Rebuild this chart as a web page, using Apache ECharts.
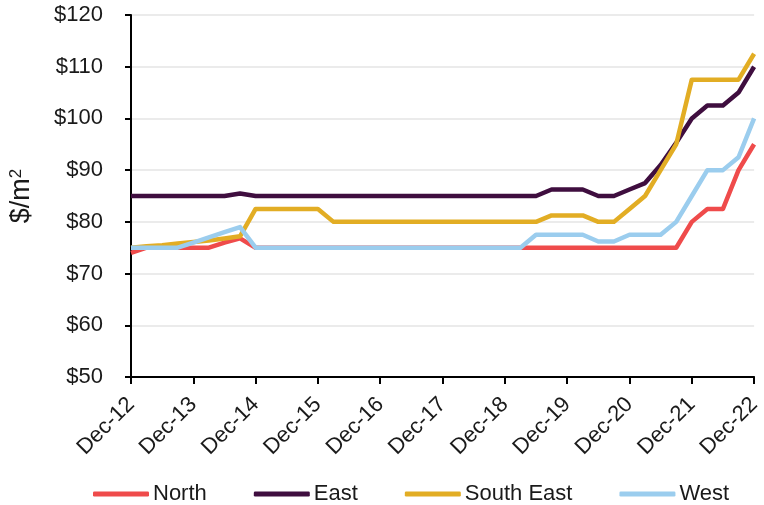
<!DOCTYPE html>
<html>
<head>
<meta charset="utf-8">
<script src="https://cdn.jsdelivr.net/npm/echarts@6/dist/echarts.min.js"></script>
<style>
  html, body { margin: 0; padding: 0; background: #ffffff; }
  #chart { width: 764px; height: 505px; }
</style>
</head>
<body>
<div id="chart"></div>
<script>
// Quarterly periods, Dec-12 through Dec-22
const periods = [
  'Dec-12', 'Mar-13', 'Jun-13', 'Sep-13',
  'Dec-13', 'Mar-14', 'Jun-14', 'Sep-14',
  'Dec-14', 'Mar-15', 'Jun-15', 'Sep-15',
  'Dec-15', 'Mar-16', 'Jun-16', 'Sep-16',
  'Dec-16', 'Mar-17', 'Jun-17', 'Sep-17',
  'Dec-17', 'Mar-18', 'Jun-18', 'Sep-18',
  'Dec-18', 'Mar-19', 'Jun-19', 'Sep-19',
  'Dec-19', 'Mar-20', 'Jun-20', 'Sep-20',
  'Dec-20', 'Mar-21', 'Jun-21', 'Sep-21',
  'Dec-21', 'Mar-22', 'Jun-22', 'Sep-22',
  'Dec-22'
];

// Rent in $/m² by region
const north = [
  74, 75, 75, 75,
  75, 75, 76, 76.8,
  75, 75, 75, 75,
  75, 75, 75, 75,
  75, 75, 75, 75,
  75, 75, 75, 75,
  75, 75, 75, 75,
  75, 75, 75, 75,
  75, 75, 75, 75,
  80, 82.5, 82.5, 90,
  95
];
const east = [
  85, 85, 85, 85,
  85, 85, 85, 85.5,
  85, 85, 85, 85,
  85, 85, 85, 85,
  85, 85, 85, 85,
  85, 85, 85, 85,
  85, 85, 85, 86.25,
  86.25, 86.25, 85, 85,
  86.25, 87.5, 91, 95.3,
  100, 102.5, 102.5, 105,
  110
];
const southEast = [
  75, 75.3, 75.5, 75.8,
  76.1, 76.4, 76.8, 77.2,
  82.5, 82.5, 82.5, 82.5,
  82.5, 80, 80, 80,
  80, 80, 80, 80,
  80, 80, 80, 80,
  80, 80, 80, 81.25,
  81.25, 81.25, 80, 80,
  82.5, 85, 90, 95,
  107.5, 107.5, 107.5, 107.5,
  112.5
];
const west = [
  75, 75, 75, 75,
  76, 77, 78, 79,
  75, 75, 75, 75,
  75, 75, 75, 75,
  75, 75, 75, 75,
  75, 75, 75, 75,
  75, 75, 77.5, 77.5,
  77.5, 77.5, 76.2, 76.2,
  77.5, 77.5, 77.5, 80,
  85, 90, 90, 92.5,
  100
];

const seriesNames = ['North', 'East', 'South East', 'West'];
const seriesColors = ['#EF4B4B', '#3F0E3F', '#E2AD24', '#9BCDEE'];
const seriesData = [north, east, southEast, west];

const yMin = 50, yMax = 120, yStep = 10;

const FONT = '"Liberation Sans", Arial, sans-serif';
const TEXT = '#1a1a1a';

const chart = echarts.init(document.getElementById('chart'), null, { renderer: 'canvas' });

chart.setOption({
  animation: false,
  backgroundColor: '#ffffff',
  grid: { left: 131, right: 9, top: 15, bottom: 128 },
  legend: {
    top: 478,
    left: 88,
    icon: 'roundRect',
    itemWidth: 56,
    itemHeight: 5,
    itemGap: 47,
    textStyle: { fontFamily: FONT, fontSize: 22, color: TEXT, padding: [0, 0, 0, -1] },
    data: seriesNames
  },
  xAxis: {
    type: 'category',
    data: periods,
    boundaryGap: false,
    axisLine: { lineStyle: { color: '#000', width: 2 } },
    axisTick: { interval: 3, length: 7, lineStyle: { color: '#000', width: 2 } },
    axisLabel: {
      interval: 3,
      rotate: 45,
      margin: 24,
      fontFamily: FONT,
      fontSize: 22,
      color: TEXT
    },
    splitLine: { show: false }
  },
  yAxis: {
    type: 'value',
    min: yMin,
    max: yMax,
    interval: yStep,
    name: '$/m{sup|2}',
    nameLocation: 'middle',
    nameRotate: 90,
    nameGap: 96,
    nameTextStyle: {
      fontFamily: FONT,
      fontSize: 27,
      color: TEXT,
      rich: {
        sup: { fontFamily: FONT, fontSize: 17, color: TEXT, verticalAlign: 'top', lineHeight: 17 }
      }
    },
    axisLine: { show: true, lineStyle: { color: '#000', width: 2 } },
    axisTick: { show: true, length: 6, lineStyle: { color: '#000', width: 2 } },
    axisLabel: {
      margin: 28,
      fontFamily: FONT,
      fontSize: 22,
      color: TEXT,
      formatter: v => '$' + v
    },
    splitLine: { show: true, lineStyle: { color: '#EBEBEB', width: 2 } }
  },
  series: seriesNames.map((name, i) => ({
    name: name,
    type: 'line',
    data: seriesData[i],
    symbol: 'none',
    color: seriesColors[i],
    itemStyle: { color: seriesColors[i] },
    lineStyle: { width: 4.5, color: seriesColors[i], join: 'round' },
    z: 2 + i
  }))
});
</script>
</body>
</html>
